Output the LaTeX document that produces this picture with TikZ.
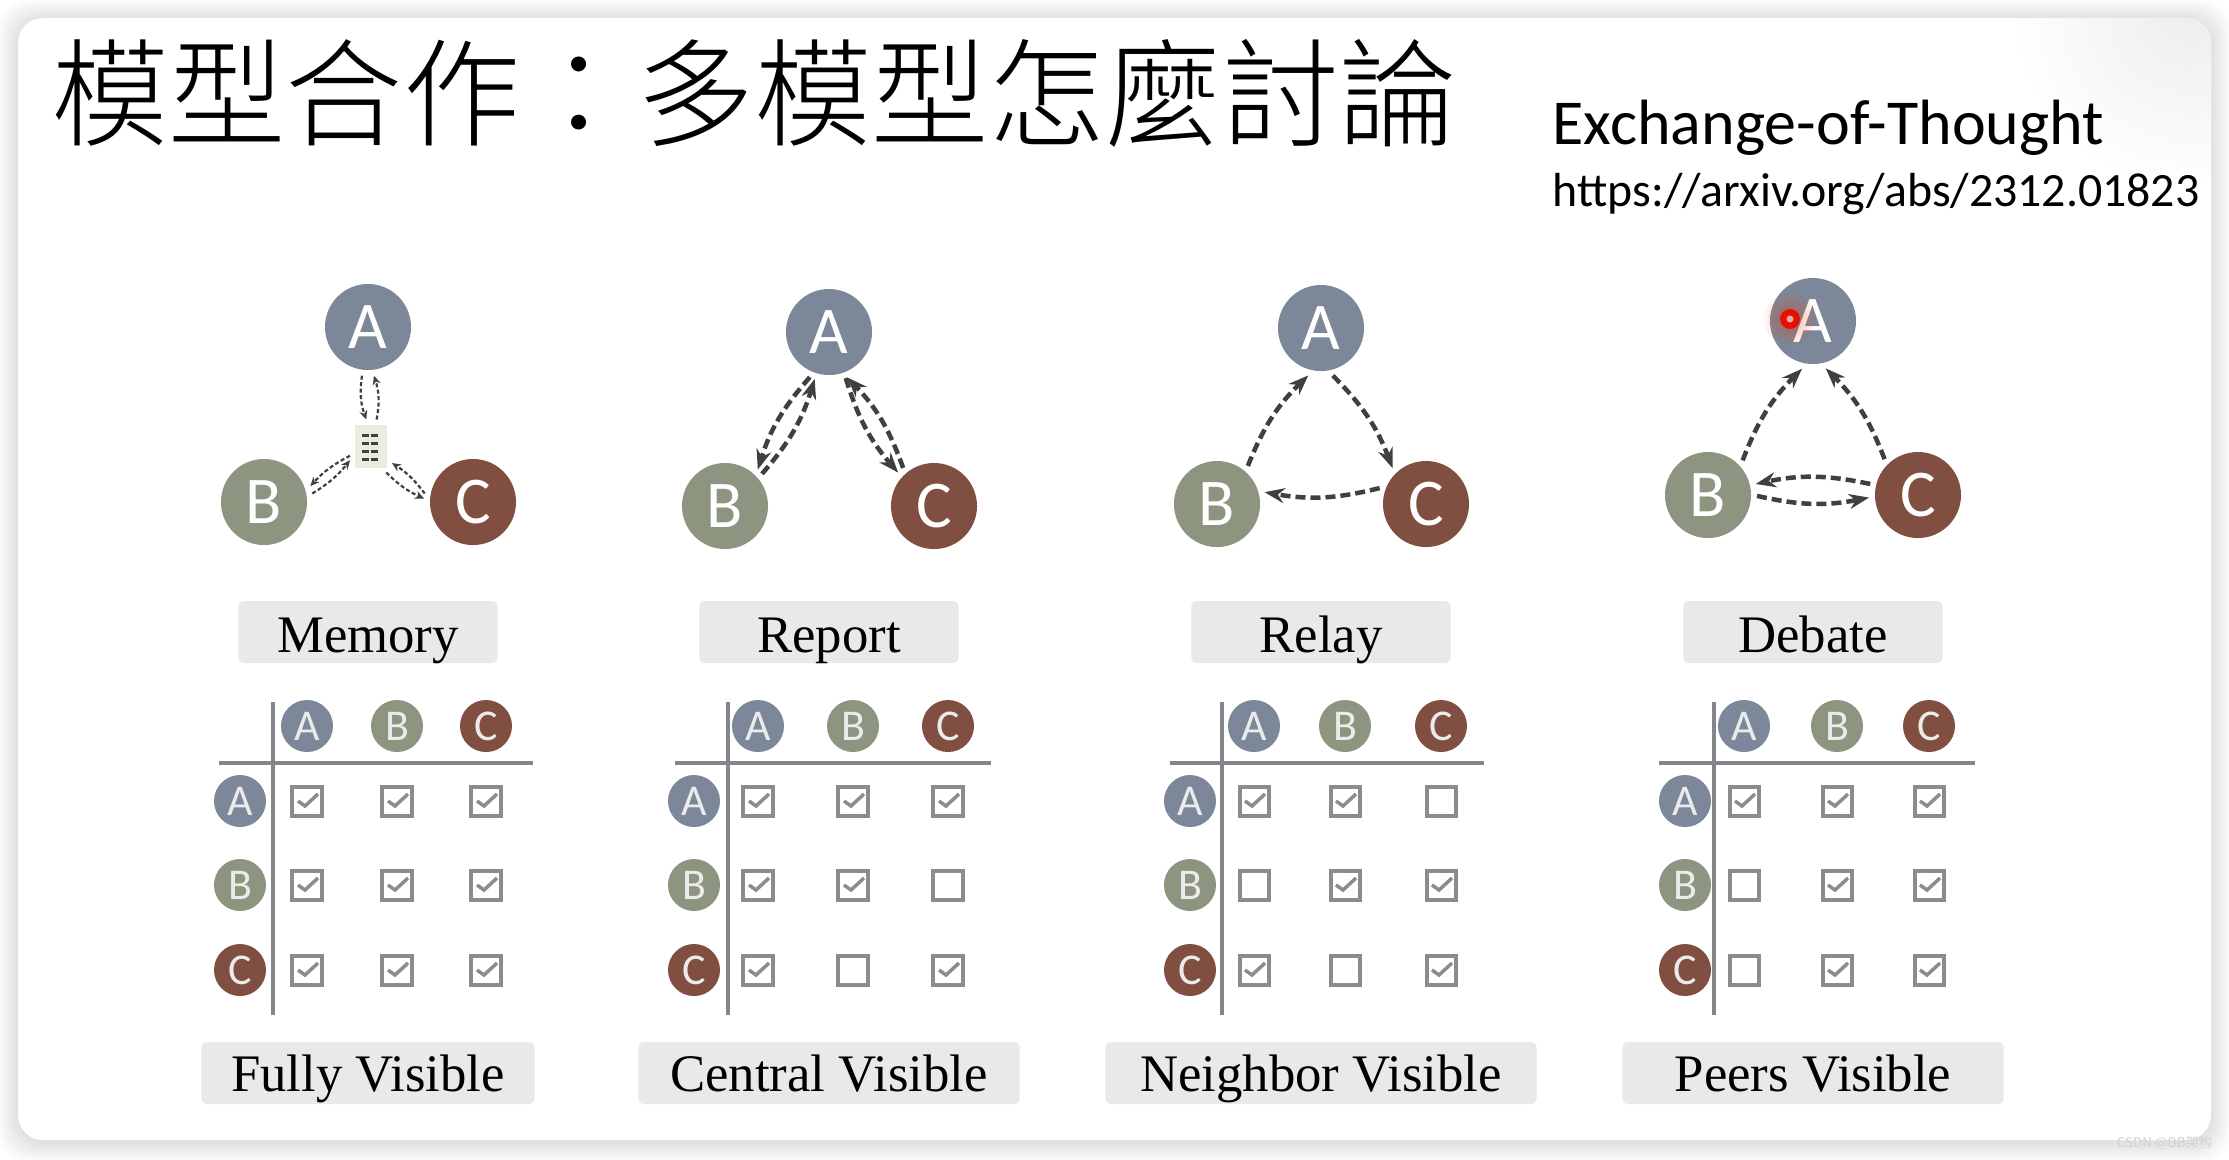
\documentclass[tikz,border=0pt]{standalone}
\usepackage{fontspec}
\usetikzlibrary{arrows.meta}
\setmainfont{Liberation Serif}
\newfontfamily\cjk{Noto Sans CJK TC}[UprightFont=* Light]
\newfontfamily\cjksc{Noto Sans CJK SC}
\newfontfamily\latinlight{Carlito}
\definecolor{colA}{HTML}{7C8899}
\definecolor{colB}{HTML}{8D9580}
\definecolor{colC}{HTML}{804F41}
\definecolor{gridcol}{HTML}{83868A}
\definecolor{tickcol}{HTML}{8C8C8C}
\definecolor{tagcol}{HTML}{E9E9E9}
\definecolor{flowcol}{HTML}{404040}
\definecolor{memcol}{HTML}{ECEBDF}
\tikzset{
  big/.style={circle, minimum size=0.86cm, inner sep=0pt, outer sep=0.06cm, text=white,
    font=\latinlight\fontsize{19}{19}\selectfont},
  small/.style={circle, minimum size=0.52cm, inner sep=0pt, text=white!92!black,
    font=\latinlight\fontsize{12.5}{12.5}\selectfont},
  tag/.style={rectangle, rounded corners=0.05cm, fill=tagcol, text=black, inner sep=0pt,
    minimum height=0.62cm, text height=0.42cm, text depth=0.05cm, font=\fontsize{15}{16}\selectfont},
  toptag/.style={tag, minimum width=2.59cm, text height=0.46cm},
  nochk/.style={rectangle, draw=tickcol, line width=0.04cm, minimum size=0.29cm, inner sep=0pt, fill=white},
  chk/.style={nochk, path picture={
    \draw[tickcol, line width=0.035cm] ([shift={(-0.09cm,0cm)}]path picture bounding box.center)
      -- ++(0.07cm,-0.05cm) -- ++(0.13cm,0.12cm);}},
  gridline/.style={gridcol, line width=0.04cm},
  flow/.style={-{Stealth[length=0.2cm, width=0.15cm]}, flowcol, line width=0.045cm, dash pattern=on 0.1cm off 0.05cm},
  memflow/.style={-{Stealth[length=0.09cm, width=0.08cm]}, flowcol, line width=0.022cm, dash pattern=on 0.04cm off 0.025cm},
  doc/.style={rectangle, fill=memcol, minimum width=0.32cm, minimum height=0.43cm, inner sep=0pt, outer sep=0.05cm},
  memline/.style={flowcol, line width=0.03cm, dash pattern=on 0.07cm off 0.015cm}
}
\begin{document}
\begin{tikzpicture}[x=0.01cm, y=-0.01cm]
    \useasboundingbox (0,0) rectangle (2229,1159);

    % 1. Card and its shadow
    \foreach \d in {20,18,...,2}
        \fill[black, opacity=0.012, rounded corners=0.3cm] (18-\d,20-\d) rectangle (2211+\d,1142+\d);
    \fill[white, rounded corners=0.25cm] (18,18) rectangle (2211,1140);
    \begin{scope}
        \clip[rounded corners=0.25cm] (18,18) rectangle (2211,1140);
        \shade[inner color=black!7, outer color=white] (2190,10) circle (1.8cm);
    \end{scope}

    % 2. Title and reference
    \node[anchor=base west, inner sep=0pt, font=\cjk\fontsize{33.3}{33}\selectfont] (title) at (51,137) {模型合作：多模型怎麼討論};
    \node[anchor=base west, inner sep=0pt, font=\latinlight\fontsize{18.2}{18}\selectfont] (paper) at (1552,144) {Exchange-of-Thought};
    \node[anchor=base west, inner sep=0pt, font=\latinlight\fontsize{13.6}{14}\selectfont] (link) at (1552,206) {https://arxiv.org/abs/2312.01823};

    % 3. Memory
    \node[big, fill=colA] (a1) at (368,327) {A};
    \node[big, fill=colB] (b1) at (264,502) {B};
    \node[big, fill=colC] (c1) at (473,502) {C};
    \node[doc] (m1) at (371,446) {};
    \foreach \y in {435,443,451,459}
        \draw[memline] (362,\y) -- (378,\y);
    \draw[memflow] (a1.263) to[bend right=14] (m1.100);
    \draw[memflow] (m1.78) to[bend right=14] (a1.277);
    \draw[memflow] (m1.205) to[bend right=10] (b1.19);
    \draw[memflow] (b1.10) to[bend right=10] (m1.214);
    \draw[memflow] (c1.170) to[bend right=10] (m1.321);
    \draw[memflow] (m1.300) to[bend right=10] (c1.176);
    \node[toptag] (top1) at (368,632) {Memory};

    % 4. Report
    \node[big, fill=colA] (a2) at (829,332) {A};
    \node[big, fill=colB] (b2) at (725,506) {B};
    \node[big, fill=colC] (c2) at (934,506) {C};
    \draw[flow] (a2.247) to[bend right=12] (b2.48);
    \draw[flow] (b2.41) to[bend right=12] (a2.253);
    \draw[flow] (c2.129) to[bend right=12] (a2.292);
    \draw[flow] (a2.290) to[bend right=12] (c2.137);
    \node[toptag] (top2) at (829,632) {Report};

    % 5. Relay
    \node[big, fill=colA] (a3) at (1321,328) {A};
    \node[big, fill=colB] (b3) at (1217,504) {B};
    \node[big, fill=colC] (c3) at (1426,504) {C};
    \draw[flow] (b3.51) to[bend left=12] (a3.255);
    \draw[flow] (a3.284) to[bend left=12] (c3.133);
    \draw[flow] (c3.161) to[bend left=12] (b3.14);
    \node[toptag] (top3) at (1321,632) {Relay};

    % 6. Debate
    \node[big, fill=colA] (a4) at (1813,321) {A};
    \node[big, fill=colB] (b4) at (1708,495) {B};
    \node[big, fill=colC] (c4) at (1918,495) {C};
    \draw[flow] (b4.45) to[bend left=12] (a4.257);
    \draw[flow] (c4.133) to[bend right=12] (a4.285);
    \draw[flow] (c4.167) to[bend right=12] (b4.13);
    \draw[flow] (b4.359) to[bend right=12] (c4.183);
    \node[toptag] (top4) at (1813,632) {Debate};

    % Red pointer over the last A
    \foreach \r in {26,22,...,10}
        \fill[red!60!orange, opacity=0.06] (1790,319) circle (\r*0.01cm);
    \fill[red!85!orange!90!black] (1790,319) circle (0.1cm);
    \fill[red!30!white!80!colA] (1790,319) circle (0.035cm);

    % 7. Fully Visible
    \draw[gridline] (273,702) -- (273,1015);
    \draw[gridline] (219,763) -- (533,763);
    \node[small, fill=colA] (h1a) at (307,726) {A};
    \node[small, fill=colB] (h1b) at (397,726) {B};
    \node[small, fill=colC] (h1c) at (486,726) {C};
    \node[small, fill=colA] (r1a) at (240,801) {A};
    \node[small, fill=colB] (r1b) at (240,885) {B};
    \node[small, fill=colC] (r1c) at (240,970) {C};
    \foreach \cx/\ry/\s in {307/801/chk, 397/801/chk, 486/801/chk,
                            307/885/chk, 397/885/chk, 486/885/chk,
                            307/970/chk, 397/970/chk, 486/970/chk}
        \node[\s] (t1-\cx-\ry) at (\cx,\ry) {};
    \node[tag, minimum width=3.33cm] (low1) at (368,1073) {Fully Visible};

    % 8. Central Visible
    \draw[gridline] (728,702) -- (728,1015);
    \draw[gridline] (675,763) -- (991,763);
    \node[small, fill=colA] (h2a) at (758,726) {A};
    \node[small, fill=colB] (h2b) at (853,726) {B};
    \node[small, fill=colC] (h2c) at (948,726) {C};
    \node[small, fill=colA] (r2a) at (694,801) {A};
    \node[small, fill=colB] (r2b) at (694,885) {B};
    \node[small, fill=colC] (r2c) at (694,970) {C};
    \foreach \cx/\ry/\s in {758/801/chk, 853/801/chk, 948/801/chk,
                            758/885/chk, 853/885/chk, 948/885/nochk,
                            758/970/chk, 853/970/nochk, 948/970/chk}
        \node[\s] (t2-\cx-\ry) at (\cx,\ry) {};
    \node[tag, minimum width=3.81cm] (low2) at (829,1073) {Central Visible};

    % 9. Neighbor Visible
    \draw[gridline] (1222,702) -- (1222,1015);
    \draw[gridline] (1170,763) -- (1484,763);
    \node[small, fill=colA] (h3a) at (1254,726) {A};
    \node[small, fill=colB] (h3b) at (1345,726) {B};
    \node[small, fill=colC] (h3c) at (1441,726) {C};
    \node[small, fill=colA] (r3a) at (1190,801) {A};
    \node[small, fill=colB] (r3b) at (1190,885) {B};
    \node[small, fill=colC] (r3c) at (1190,970) {C};
    \foreach \cx/\ry/\s in {1254/801/chk, 1345/801/chk, 1441/801/nochk,
                            1254/885/nochk, 1345/885/chk, 1441/885/chk,
                            1254/970/chk, 1345/970/nochk, 1441/970/chk}
        \node[\s] (t3-\cx-\ry) at (\cx,\ry) {};
    \node[tag, minimum width=4.31cm] (low3) at (1321,1073) {Neighbor Visible};

    % 10. Peers Visible
    \draw[gridline] (1714,702) -- (1714,1015);
    \draw[gridline] (1659,763) -- (1975,763);
    \node[small, fill=colA] (h4a) at (1744,726) {A};
    \node[small, fill=colB] (h4b) at (1837,726) {B};
    \node[small, fill=colC] (h4c) at (1929,726) {C};
    \node[small, fill=colA] (r4a) at (1685,801) {A};
    \node[small, fill=colB] (r4b) at (1685,885) {B};
    \node[small, fill=colC] (r4c) at (1685,970) {C};
    \foreach \cx/\ry/\s in {1744/801/chk, 1837/801/chk, 1929/801/chk,
                            1744/885/nochk, 1837/885/chk, 1929/885/chk,
                            1744/970/nochk, 1837/970/chk, 1929/970/chk}
        \node[\s] (t4-\cx-\ry) at (\cx,\ry) {};
    \node[tag, minimum width=3.81cm] (low4) at (1813,1073) {Peers Visible};

    % 11. Watermark
    \node[anchor=east, inner sep=0pt, text=black!18, font=\cjksc\fontsize{3.8}{4}\selectfont] (mark) at (2213,1143) {CSDN @DB架构};
\end{tikzpicture}
\end{document}
